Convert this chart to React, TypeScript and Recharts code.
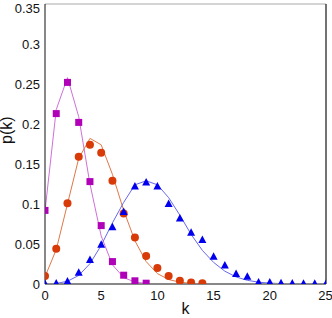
import React from "react";
import { ComposedChart, Line, Scatter, XAxis, YAxis } from "recharts";

// k values 0..25
const kValues = Array.from({ length: 26 }, (_, i) => i);
const xTicks = [0, 5, 10, 15, 20, 25];
const yTicks = [0, 0.05, 0.1, 0.15, 0.2, 0.25, 0.3, 0.35];

// measured points
const magentaPts = [0.092, 0.213, 0.252, 0.202, 0.128, 0.073, 0.028, 0.011, 0.004, 0.001];
const redPts = [0.010, 0.044, 0.101, 0.159, 0.174, 0.164, 0.129, 0.088, 0.058, 0.035, 0.020, 0.010, 0.004, 0.002, 0.001];
const bluePts = [0.0002, 0.0006, 0.003, 0.014, 0.030, 0.049, 0.071, 0.090, 0.122, 0.127, 0.122, 0.100, 0.082, 0.064, 0.055, 0.034, 0.023, 0.0125, 0.009, 0.002, 0.002, 0.001, 0.0005, 0.0004, 0.0003, 0.0003];

// fitted curves
const magentaFit = [0.091, 0.218, 0.258, 0.209, 0.125, 0.060, 0.024, 0.008, 0.0025, 0.0007, 0.0002];
const redFit = [0.009, 0.043, 0.100, 0.157, 0.182, 0.174, 0.137, 0.092, 0.054, 0.028, 0.013, 0.0056, 0.0022, 0.0008, 0.0003, 0.0001, 0];
const blueFit = [0.0001, 0.0007, 0.0034, 0.0107, 0.0254, 0.0483, 0.0764, 0.102, 0.124, 0.129, 0.124, 0.108, 0.086, 0.062, 0.042, 0.027, 0.016, 0.0088, 0.0046, 0.0023, 0.0011, 0.0005, 0.0002, 0.0001, 0, 0];

const toRows = (vals: number[]) => vals.map((p, i) => ({ k: kValues[i], p }));

const Square = (props: any) => {
    const { cx, cy } = props;
    return <rect x={cx - 3.5} y={cy - 3.5} width={7} height={7} fill="#b000b8" />;
};

const Dot = (props: any) => {
    const { cx, cy } = props;
    return <circle cx={cx} cy={cy} r={4} fill="#d83a08" />;
};

const Tri = (props: any) => {
    const { cx, cy } = props;
    return <polygon points={`${cx},${cy - 4.5} ${cx - 4},${cy + 3} ${cx + 4},${cy + 3}`} fill="#0000ee" />;
};

const fmt = (v: number) => `${Number(v.toFixed(2))}`;

export default function App() {
    const font = "'Liberation Sans', Arial, sans-serif";
    return (
        <div style={{ position: "absolute", left: 0, top: 0, width: 332, height: 318, background: "#fff", fontFamily: font }}>
            <ComposedChart width={332} height={318} margin={{ top: 4, right: 6, left: 0, bottom: 0 }}>
                <XAxis
                    xAxisId="b"
                    dataKey="k"
                    type="number"
                    domain={[0, 25]}
                    ticks={xTicks}
                    allowDataOverflow
                    height={34}
                    tickSize={0}
                    tickMargin={7}
                    stroke="#888"
                    strokeWidth={2}
                    tick={{ fontSize: 13, fill: "#111", fontFamily: font }}
                    label={{ value: "k", position: "insideBottom", offset: 4, fontSize: 16, fill: "#111", fontFamily: font }}
                />
                <XAxis
                    xAxisId="t"
                    orientation="top"
                    dataKey="k"
                    type="number"
                    domain={[0, 25]}
                    ticks={xTicks}
                    height={1}
                    mirror
                    tick={false}
                    tickSize={4}
                    stroke="#aaa"
                />
                <YAxis
                    yAxisId="l"
                    type="number"
                    domain={[0, 0.35]}
                    ticks={yTicks}
                    allowDataOverflow
                    width={45}
                    tickSize={0}
                    tickMargin={5}
                    stroke="#111"
                    tickFormatter={fmt}
                    tick={{ fontSize: 13, fill: "#111", fontFamily: font }}
                    label={{ value: "p(k)", angle: -90, position: "insideLeft", offset: 6, fontSize: 16, fill: "#111", fontFamily: font }}
                />
                <YAxis
                    yAxisId="r"
                    orientation="right"
                    type="number"
                    domain={[0, 0.35]}
                    ticks={yTicks}
                    width={1}
                    mirror
                    tick={false}
                    tickSize={4}
                    stroke="#444"
                    strokeWidth={1.5}
                />
                <Line xAxisId="b" yAxisId="l" data={toRows(magentaFit)} dataKey="p" stroke="#d070d8" strokeWidth={1} dot={false} isAnimationActive={false} />
                <Line xAxisId="b" yAxisId="l" data={toRows(redFit)} dataKey="p" stroke="#e07848" strokeWidth={1} dot={false} isAnimationActive={false} />
                <Line xAxisId="b" yAxisId="l" data={toRows(blueFit)} dataKey="p" stroke="#6868ee" strokeWidth={1} dot={false} isAnimationActive={false} />
                <Scatter xAxisId="b" yAxisId="l" data={toRows(magentaPts)} dataKey="p" shape={Square} isAnimationActive={false} />
                <Scatter xAxisId="b" yAxisId="l" data={toRows(redPts)} dataKey="p" shape={Dot} isAnimationActive={false} />
                <Scatter xAxisId="b" yAxisId="l" data={toRows(bluePts)} dataKey="p" shape={Tri} isAnimationActive={false} />
            </ComposedChart>
        </div>
    );
}
